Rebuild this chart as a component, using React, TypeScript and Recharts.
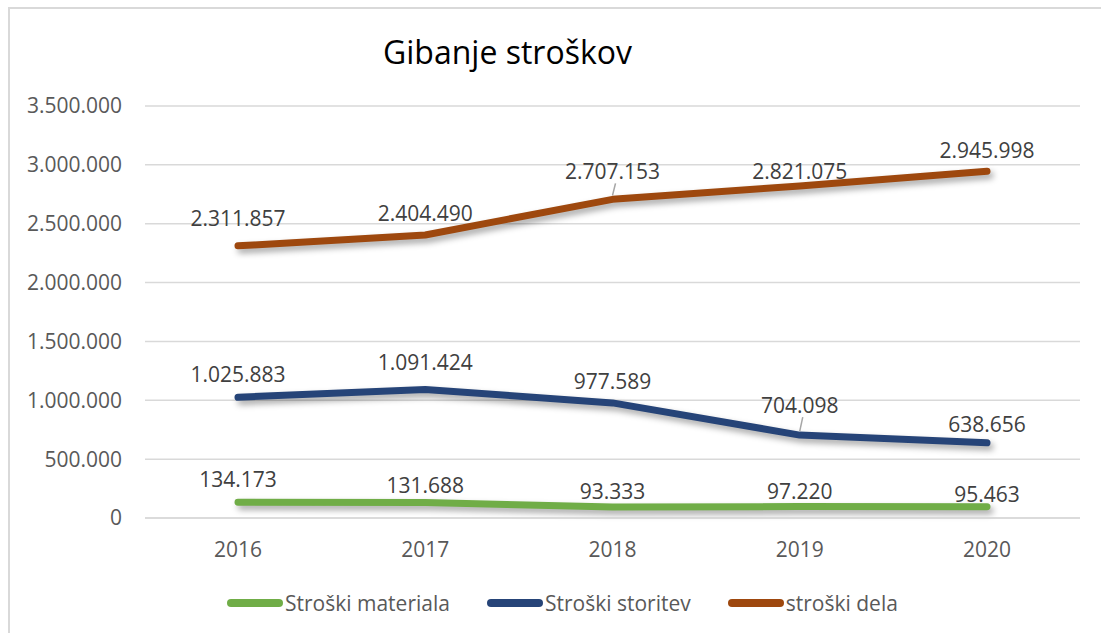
import { LineChart, Line, XAxis, YAxis, CartesianGrid, LabelList } from "recharts";

const YEARS = ["2016", "2017", "2018", "2019", "2020"];
const STROSKI_MATERIALA = [134173, 131688, 93333, 97220, 95463];
const STROSKI_STORITEV = [1025883, 1091424, 977589, 704098, 638656];
const STROSKI_DELA = [2311857, 2404490, 2707153, 2821075, 2945998];
const Y_TICKS = [0, 500000, 1000000, 1500000, 2000000, 2500000, 3000000, 3500000];

const FONT = "'Open Sans', 'Noto Sans', sans-serif";
const W = 1101;
const H = 633;

const SERIES = [
  { key: "materiala", name: "Stroški materiala", color: "#70AD47" },
  { key: "storitev", name: "Stroški storitev", color: "#264478" },
  { key: "dela", name: "stroški dela", color: "#9E480E" },
];

// label offsets above each point (Excel labels were nudged by hand)
const LABEL_DY: Record<string, number[]> = {
  materiala: [-23, -17, -16, -16, -13],
  storitev: [-23, -28, -22, -30, -19],
  dela: [-28, -22, -28, -15, -21],
};
const LEADERS: Record<string, number[]> = {
  materiala: [],
  storitev: [3],
  dela: [2],
};

const data = YEARS.map((year, i) => ({
  year,
  materiala: STROSKI_MATERIALA[i],
  storitev: STROSKI_STORITEV[i],
  dela: STROSKI_DELA[i],
}));

function fmt(v: number): string {
  return String(Math.round(v)).replace(/\B(?=(\d{3})+(?!\d))/g, ".");
}

function makeLabel(key: string) {
  return (props: any) => {
    const { x, y, value, index } = props;
    const ty = y + LABEL_DY[key][index];
    return (
      <g>
        {LEADERS[key].includes(index) && (
          <line x1={x + 3} y1={ty + 12} x2={x} y2={y - 4} stroke="#a6a6a6" strokeWidth={1.5} />
        )}
        <text
          x={x}
          y={ty}
          textAnchor="middle"
          dominantBaseline="central"
          fontSize={21}
          fontFamily={FONT}
          fill="#404040"
        >
          {fmt(value)}
        </text>
      </g>
    );
  };
}

export default function App() {
  return (
    <div style={{ position: "absolute", left: 0, top: 0, width: W, height: H, overflow: "hidden", background: "#fff" }}>
      <style>{`.recharts-line-curve { filter: drop-shadow(3px 4px 3px rgba(0,0,0,0.35)); }`}</style>
      <div
        style={{
          position: "absolute",
          left: 8,
          top: 7,
          width: W,
          height: H,
          border: "2px solid #d9d9d9",
          boxSizing: "border-box",
        }}
      />
      <div
        style={{
          position: "absolute",
          left: 383,
          top: 32,
          fontFamily: FONT,
          fontSize: 32,
          color: "#000",
          whiteSpace: "nowrap",
          lineHeight: "40px",
        }}
      >
        Gibanje stroškov
      </div>
      <div style={{ position: "absolute", left: 0, top: 0 }}>
        <LineChart width={W} height={H} data={data} margin={{ top: 106, right: 21, bottom: 0, left: 0 }}>
          <CartesianGrid vertical={false} stroke="#d9d9d9" strokeWidth={1.5} />
          <XAxis
            dataKey="year"
            height={115}
            padding={{ left: 93, right: 93 }}
            axisLine={{ stroke: "#d9d9d9", strokeWidth: 1.5 }}
            tickLine={false}
            tickSize={0}
            tickMargin={24}
            tick={{ fontSize: 21, fill: "#595959", fontFamily: FONT }}
          />
          <YAxis
            width={145}
            domain={[0, 3500000]}
            ticks={Y_TICKS}
            interval={0}
            axisLine={false}
            tickLine={false}
            tickSize={0}
            tickMargin={23}
            tickFormatter={fmt}
            tick={{ fontSize: 21, fill: "#595959", fontFamily: FONT }}
          />
          {SERIES.map((s) => (
            <Line
              key={s.key}
              dataKey={s.key}
              name={s.name}
              stroke={s.color}
              strokeWidth={7}
              strokeLinecap="round"
              strokeLinejoin="round"
              dot={false}
              activeDot={false}
              isAnimationActive={false}
            >
              <LabelList dataKey={s.key} content={makeLabel(s.key)} />
            </Line>
          ))}
        </LineChart>
      </div>
      <div
        style={{
          position: "absolute",
          left: 227,
          top: 589,
          display: "flex",
          alignItems: "center",
          gap: 37,
          fontFamily: FONT,
          fontSize: 21,
          color: "#595959",
          whiteSpace: "nowrap",
        }}
      >
        {SERIES.map((s) => (
          <div key={s.key} style={{ display: "flex", alignItems: "center", gap: 2 }}>
            <span style={{ display: "inline-block", width: 56, height: 8, borderRadius: 4, background: s.color }} />
            <span>{s.name}</span>
          </div>
        ))}
      </div>
    </div>
  );
}
